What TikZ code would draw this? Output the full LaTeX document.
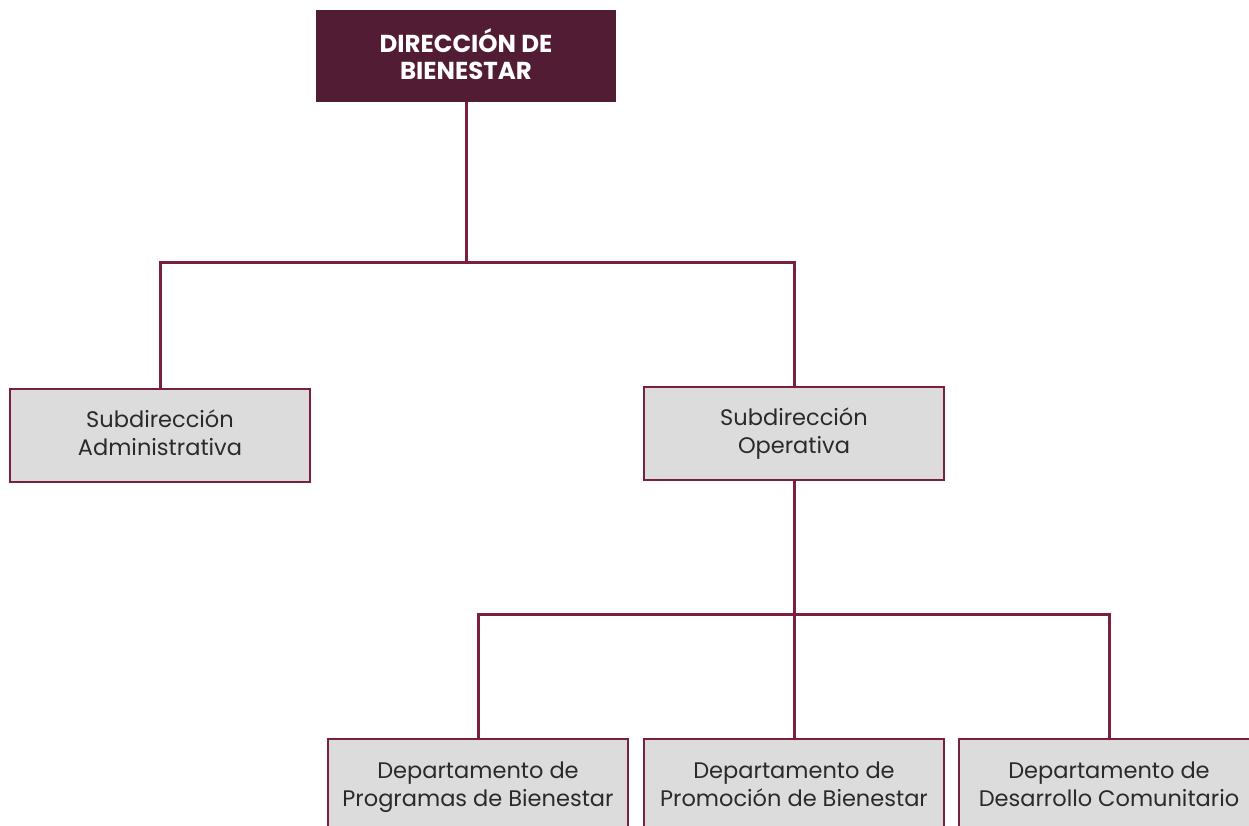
\documentclass[tikz,border=0pt]{standalone}
\usepackage{fontspec}
\setmainfont{Poppins}
\definecolor{maroon}{HTML}{521C35}
\definecolor{linec}{HTML}{7B1F40}
\definecolor{boxgray}{HTML}{DCDCDC}
\definecolor{txt}{HTML}{2A2A2A}
\begin{document}
\begin{tikzpicture}[x=1pt,y=-1pt,
  conn/.style={draw=linec,line width=3pt},
  head/.style={fill=maroon,draw=none,minimum width=300pt,minimum height=92pt,inner sep=0pt,
     text depth=4pt,
     text=white,font=\bfseries\fontsize{24.5}{27}\selectfont,align=center},
  unit/.style={fill=boxgray,draw=linec,line width=1.6pt,minimum width=300pt,minimum height=93pt,inner sep=0pt,
     text height=45pt,text depth=6pt,
     text=txt,font=\fontsize{22.5}{28}\selectfont,align=center}]
\useasboundingbox (0,0) rectangle (1249,826);
\clip (0,0) rectangle (1249,826);
\node[head] (top) at (466,56) {DIRECCIÓN DE\\BIENESTAR};
\node[unit] (subA) at (160,435.5) {Subdirección\\Administrativa};
\node[unit] (subO) at (794,433.5) {Subdirección\\Operativa};
\node[unit,minimum height=96pt] (d1) at (478,787) {Departamento de\\Programas de Bienestar};
\node[unit,minimum height=96pt] (d2) at (794,787) {Departamento de\\Promoción de Bienestar};
\node[unit,minimum height=96pt] (d3) at (1109,787) {Departamento de\\Desarrollo Comunitario};
\coordinate (j1) at (466,262);
\coordinate (j2) at (794,614);
\draw[conn] (top.south) -- (j1);
\draw[conn] (subA.north) |- (j1) -| (subO.north);
\draw[conn] (subO.south) -- (j2);
\draw[conn] (d1.north) |- (j2) -| (d3.north);
\draw[conn] (j2) -- (d2.north);
\end{tikzpicture}
\end{document}
